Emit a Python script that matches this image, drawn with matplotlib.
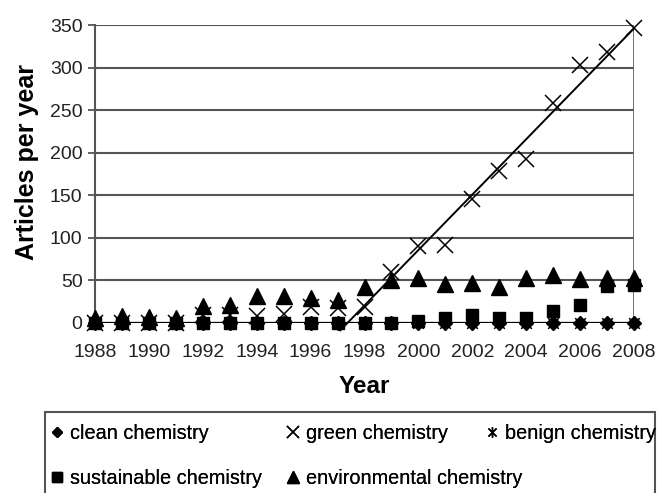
import numpy as np
import matplotlib.pyplot as plt
from matplotlib.path import Path
from matplotlib.patches import Rectangle

plt.rcParams['font.family'] = ['Liberation Sans', 'DejaVu Sans']

# Years and articles per year for each search term
years = np.arange(1988, 2009)
clean = [0, 0, 0, 0, 0, 0, 0, 0, 0, 0, 0, 0, 0, 0, 0, 0, 0, 0, 0, 0, 0]
green = [0, 0, 0, 0, 9, 9, 8, 10, 18, 17, 19, 60, 90, 91, 145, 178, 192, 258, 303, 318, 346]
benign = [0, 0, 0, 0, 0, 0, 0, 0, 0, 0, 0, 0, 0, 0, 0, 0, 0, 0, 0, 0, 0]
sustainable = [0, 0, 0, 0, 0, 0, 0, 0, 0, 0, 0, 0, 2, 5, 9, 5, 6, 14, 21, 43, 44]
environmental = [5, 8, 7, 5, 20, 21, 31, 31, 29, 27, 42, 50, 52, 45, 47, 42, 52, 56, 51, 53, 52]

# trend line for green chemistry
trend_years = [1997.1, 2008]
trend_values = [-9, 346]

# asterisk marker: an x with a vertical bar
star = Path([(-1, -1), (1, 1), (-1, 1), (1, -1), (0, -1.3), (0, 1.3)],
            [Path.MOVETO, Path.LINETO, Path.MOVETO, Path.LINETO, Path.MOVETO, Path.LINETO])

fig = plt.figure(figsize=(6.58, 4.93), dpi=100)
ax = fig.add_axes([95 / 658, 1 - 322.7 / 493, 539 / 658, 297.7 / 493])

kw = dict(linestyle='none', color='black', clip_on=False, zorder=3)
l_clean, = ax.plot(years, clean, marker='D', markersize=7, label='clean chemistry', **kw)
l_sust, = ax.plot(years, sustainable, marker='s', markersize=9, label='sustainable chemistry', **kw)
l_green, = ax.plot(years, green, marker='x', markersize=11, markeredgewidth=1.1, label='green chemistry', **kw)
l_env, = ax.plot(years, environmental, marker='^', markersize=11, label='environmental chemistry', **kw)
l_benign, = ax.plot(years, benign, marker=star, markersize=10, markeredgewidth=1.1, label='benign chemistry', **kw)

ax.plot(trend_years, trend_values, color='black', linewidth=1.4, clip_on=False, zorder=4)

ax.set_xlim(1988, 2008)
ax.set_ylim(0, 350)
ax.set_xticks(np.arange(1988, 2009, 2))
ax.set_yticks(np.arange(0, 351, 50))
ax.yaxis.grid(True, color='#555555', linewidth=1.5)
ax.set_axisbelow(True)
ax.axhline(0, color='black', linewidth=1.6, zorder=2)
ax.axvline(2008, color='#666666', linewidth=1.3, zorder=2)

for s in ['top', 'right', 'bottom']:
    ax.spines[s].set_visible(False)
ax.spines['left'].set_color('#555555')
ax.spines['left'].set_linewidth(1.5)

ax.tick_params(axis='y', length=5, width=1.3, color='#555555', pad=4, labelsize=14, labelcolor='#222222')
ax.tick_params(axis='x', length=0, pad=15, labelsize=14, labelcolor='#222222')

ax.set_xlabel('Year', fontsize=17.5, fontweight='bold')
ax.xaxis.set_label_coords(0.5, -0.175)
fig.text(27 / 658, 1 - 162 / 493, 'Articles per year', rotation=90, ha='center', va='center',
         fontsize=18, fontweight='bold')

# legend box runs off the bottom of the picture
fig.patches.append(Rectangle((45 / 658, -0.05), 610 / 658, 0.05 + 1 - 412 / 493,
                             transform=fig.transFigure, fill=False,
                             edgecolor='#555555', linewidth=1.5))

# legend entries laid out on a fixed grid, as in the original
legend_cols = [([l_clean, l_sust], 50), ([l_green, l_env], 286), ([l_benign], 485)]
for handles, xpix in legend_cols:
    leg = fig.legend(handles, [h.get_label() for h in handles], loc='upper left',
                     bbox_to_anchor=(xpix / 658, 1 - 424 / 493),
                     fontsize=14.3, frameon=False, handlelength=0.7, markerscale=0.75,
                     handletextpad=0.3, labelspacing=1.3, borderpad=0,
                     borderaxespad=0)
    fig.add_artist(leg)

plt.savefig('out.png', dpi=100)
